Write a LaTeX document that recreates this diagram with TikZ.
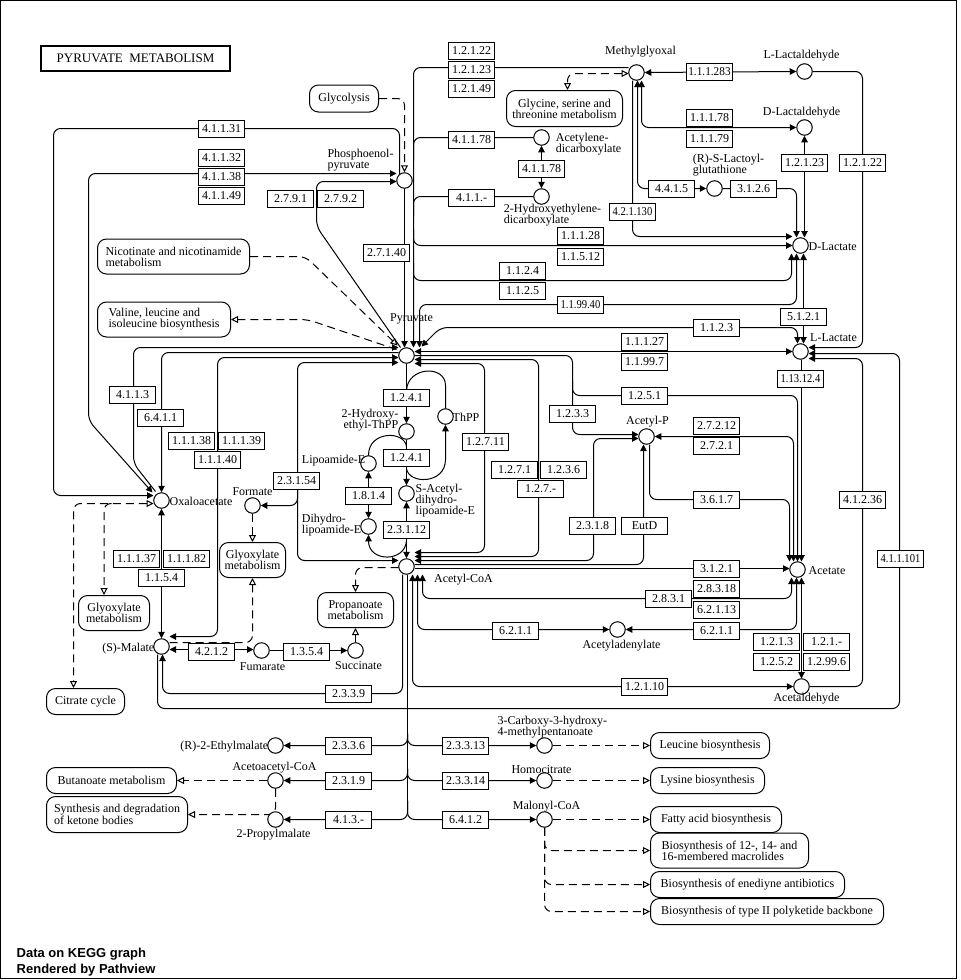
\documentclass[tikz,border=0pt]{standalone}
\usepackage{fontspec}
\setmainfont{Liberation Serif}
\newfontfamily\footfont{Liberation Sans}
\usetikzlibrary{arrows.meta,calc}
\pgfdeclarelayer{bg}
\pgfsetlayers{bg,main}
\newcommand\ecnum[2][0.88]{\scalebox{#1}[1]{#2}}
\begin{document}
\begin{tikzpicture}[x=1pt,y=-1pt,
  every node/.style={font=\fontsize{12}{11}\selectfont, inner sep=0pt},
  cpd/.style={circle,draw,fill=white,line width=1pt,minimum size=15.5pt},
  enz/.style={draw,fill=white,line width=1pt,minimum width=46pt,minimum height=17pt},
  mapbox/.style={draw,fill=white,line width=1pt,rounded corners=9pt,align=center},
  lbl/.style={align=left},
  ln/.style={line width=1pt,rounded corners=7pt},
  ar/.style={ln,-{Triangle[length=6.5pt,width=6.5pt]}},
  ra/.style={ln,{Triangle[length=6.5pt,width=6.5pt]}-},
  bi/.style={ln,{Triangle[length=6.5pt,width=6.5pt]}-{Triangle[length=6.5pt,width=6.5pt]}},
  dsh/.style={line width=1pt,dash pattern=on 8pt off 5pt,rounded corners=7pt},
  odsh/.style={dsh,-{Triangle[open,length=7pt,width=7pt]}},
  ob/.style={dsh,{Triangle[open,length=7pt,width=7pt]}-{Triangle[open,length=7pt,width=7pt]}}
]
\useasboundingbox (0,0) rectangle (961,980);
% half-pixel shift keeps one-point strokes on pixel centres
\begin{scope}[shift={(0.5,0.5)}]
\draw[line width=1pt] (0,0) rectangle (956,978);

% ---------- title and footer ----------
\node[draw,line width=2pt,minimum width=189pt,minimum height=25pt,font=\fontsize{13}{14}\selectfont] (title) at (135,58) {PYRUVATE\ \ METABOLISM};
\node[anchor=base west,font=\footfont\bfseries\fontsize{13}{14}\selectfont] (ft1) at (16,957) {Data on KEGG graph};
\node[anchor=base west,font=\footfont\bfseries\fontsize{13}{14}\selectfont] (ft2) at (16,972.5) {Rendered by Pathview};

% ---------- compounds ----------
\node[cpd] (pep) at (404,180) {};
\node[cpd] (mgo) at (636,72) {};
\node[cpd] (acd) at (541,137) {};
\node[cpd] (hed) at (541,196) {};
\node[cpd] (pyr) at (406,355) {};
\node[cpd] (llald) at (804,71) {};
\node[cpd] (dlald) at (804,127) {};
\node[cpd] (lgsh) at (714,188) {};
\node[cpd] (dlac) at (800,245) {};
\node[cpd] (llac) at (800,351) {};
\node[cpd] (acp) at (646,436) {};
\node[cpd] (ace) at (797,569) {};
\node[cpd] (acoa) at (406,566) {};
\node[cpd] (aade) at (617,629) {};
\node[cpd] (acald) at (801,686) {};
\node[cpd] (hthpp) at (406,431) {};
\node[cpd] (thpp) at (445,416) {};
\node[cpd] (lip) at (368,463) {};
\node[cpd] (dhlip) at (368,526) {};
\node[cpd] (sacl) at (406,493) {};
\node[cpd] (oaa) at (161,500) {};
\node[cpd] (form) at (252,505) {};
\node[cpd] (mal) at (161,646) {};
\node[cpd] (fum) at (261,650) {};
\node[cpd] (succ) at (355,650) {};
\node[cpd] (etm) at (275,745) {};
\node[cpd] (aacoa) at (275,780) {};
\node[cpd] (pmal) at (275,819) {};
\node[cpd] (cmp) at (544,745) {};
\node[cpd] (hcit) at (544,780) {};
\node[cpd] (mcoa) at (544,819) {};

% ---------- compound labels ----------
\node[lbl] (pepL) at (360,160) {Phosphoenol-\\pyruvate};
\node (mgoL) at (640,51) {Methylglyoxal};
\node[lbl] (acdL) at (588,144) {Acetylene-\\dicarboxylate};
\node[lbl] (hedL) at (552,215) {2-Hydroxyethylene-\\dicarboxylate};
\node (pyrL) at (411,318) {Pyruvate};
\node (llaldL) at (801,55) {L-Lactaldehyde};
\node (dlaldL) at (801,112) {D-Lactaldehyde};
\node[lbl] (lgshL) at (728,165) {(R)-S-Lactoyl-\\glutathione};
\node[anchor=west] (dlacL) at (808,246) {D-Lactate};
\node (llacL) at (833,337) {L-Lactate};
\node (acpL) at (647,421) {Acetyl-P};
\node[anchor=west] (aceL) at (808,570) {Acetate};
\node (acoaL) at (463,579) {Acetyl-CoA};
\node (aadeL) at (621,645) {Acetyladenylate};
\node (acaldL) at (806,698) {Acetaldehyde};
\node[align=right,anchor=east] (hthppL) at (398,420) {2-Hydroxy-\\ethyl-ThPP};
\node[anchor=west] (thppL) at (452,417) {ThPP};
\node[anchor=east] (lipL) at (365,460) {Lipoamide-E};
\node[lbl,anchor=east] (dhlipL) at (361,525) {Dihydro-\\lipoamide-E};
\node[lbl,anchor=west] (saclL) at (415,500) {S-Acetyl-\\dihydro-\\lipoamide-E};
\node[anchor=west] (oaaL) at (169,501) {Oxaloacetate};
\node (formL) at (252,491) {Formate};
\node[anchor=east] (malL) at (154,648) {(S)-Malate};
\node (fumL) at (262,666) {Fumarate};
\node (succL) at (358,665) {Succinate};
\node[anchor=east] (etmL) at (268,746) {(R)-2-Ethylmalate};
\node (aacoaL) at (274,767) {Acetoacetyl-CoA};
\node (pmalL) at (273,834) {2-Propylmalate};
\node[lbl,anchor=west] (cmpL) at (497,727) {3-Carboxy-3-hydroxy-\\4-methylpentanoate};
\node (hcitL) at (541,769) {Homocitrate};
\node (mcoaL) at (546,806) {Malonyl-CoA};

% ---------- pathway maps ----------
\node[mapbox,minimum width=69pt,minimum height=27pt] (glyc) at (343.5,98) {Glycolysis};
\node[mapbox,minimum width=116pt,minimum height=36pt] (gsm) at (564,108) {Glycine, serine and\\threonine metabolism};
\node[mapbox,align=left,minimum width=152pt,minimum height=35pt] (nic) at (173,256) {Nicotinate and nicotinamide\\metabolism};
\node[mapbox,align=left,minimum width=133pt,minimum height=35pt] (val) at (163.5,319) {Valine, leucine and\\isoleucine biosynthesis};
\node[mapbox,minimum width=71pt,minimum height=35pt] (glx1) at (113.5,612.5) {Glyoxylate\\metabolism};
\node[mapbox,minimum width=66pt,minimum height=35pt] (glx2) at (252,559.5) {Glyoxylate\\metabolism};
\node[mapbox,minimum width=76pt,minimum height=35pt] (prop) at (355,609.5) {Propanoate\\metabolism};
\node[mapbox,minimum width=78pt,minimum height=26pt] (tca) at (85,701) {Citrate cycle};
\node[mapbox,minimum width=130pt,minimum height=26pt] (but) at (111,780) {Butanoate metabolism};
\node[mapbox,align=left,minimum width=141pt,minimum height=36pt] (ket) at (116.5,814) {Synthesis and degradation\\of ketone bodies};
\node[mapbox,minimum width=119pt,minimum height=26pt] (leu) at (709.5,745) {Leucine biosynthesis};
\node[mapbox,minimum width=114pt,minimum height=26pt] (lys) at (707,780) {Lysine biosynthesis};
\node[mapbox,minimum width=131pt,minimum height=26pt] (fab) at (715.5,819) {Fatty acid biosynthesis};
\node[mapbox,align=left,minimum width=158pt,minimum height=35pt] (mac) at (729,850) {Biosynthesis of 12-, 14- and\\16-membered macrolides};
\node[mapbox,minimum width=194pt,minimum height=26pt] (ened) at (747,884) {Biosynthesis of enediyne antibiotics};
\node[mapbox,minimum width=233pt,minimum height=26pt] (t2pk) at (766.5,911) {Biosynthesis of type II polyketide backbone};

% ---------- enzymes ----------
\node[enz] (e41131) at (221,128) {4.1.1.31};
\node[enz] (e41132) at (221,157) {4.1.1.32};
\node[enz] (e41138) at (221,176) {4.1.1.38};
\node[enz] (e41149) at (221,195) {4.1.1.49};
\node[enz] (e2791) at (290,198) {2.7.9.1};
\node[enz] (e2792) at (340,198) {2.7.9.2};
\node[enz] (e12122a) at (471,50) {1.2.1.22};
\node[enz] (e12123a) at (471,69) {1.2.1.23};
\node[enz] (e12149) at (471,88) {1.2.1.49};
\node[enz] (e41178a) at (471,139) {4.1.1.78};
\node[enz] (e41178b) at (541,168) {4.1.1.78};
\node[enz] (e411x) at (471,197) {4.1.1.-};
\node[enz] (e27140) at (386,252) {2.7.1.40};
\node[enz] (e11128) at (580,235) {1.1.1.28};
\node[enz] (e11512) at (580,256) {1.1.5.12};
\node[enz] (e1124) at (522,270) {1.1.2.4};
\node[enz] (e1125) at (522,290) {1.1.2.5};
\node[enz] (e119940) at (580,304) {\ecnum{1.1.99.40}};
\node[enz] (e111283) at (709,71) {\ecnum[0.94]{1.1.1.283}};
\node[enz] (e11178) at (709,117) {1.1.1.78};
\node[enz] (e11179) at (709,138) {1.1.1.79};
\node[enz] (e12123b) at (804,162) {1.2.1.23};
\node[enz] (e12122b) at (862,162) {1.2.1.22};
\node[enz] (e4415) at (671,188) {4.4.1.5};
\node[enz] (e3126) at (753,188) {3.1.2.6};
\node[enz] (e421130) at (632,211) {\ecnum{4.2.1.130}};
\node[enz] (e5121) at (803,316) {5.1.2.1};
\node[enz] (e1123) at (716,327) {1.1.2.3};
\node[enz] (e11127) at (644,341) {1.1.1.27};
\node[enz] (e11997) at (644,361) {1.1.99.7};
\node[enz] (e113124) at (800,378) {\ecnum{1.13.12.4}};
\node[enz] (e1251) at (644,395) {1.2.5.1};
\node[enz] (e27212) at (716,425) {2.7.2.12};
\node[enz] (e2721) at (716,445) {2.7.2.1};
\node[enz] (e3617) at (716,499) {3.6.1.7};
\node[enz] (e41236) at (862,499) {4.1.2.36};
\node[enz] (eeutd) at (644,525) {EutD};
\node[enz] (e411101) at (900,558) {\ecnum{4.1.1.101}};
\node[enz] (e3121) at (716,568) {3.1.2.1};
\node[enz] (e28318) at (716,588) {2.8.3.18};
\node[enz] (e2831) at (668,598) {2.8.3.1};
\node[enz] (e62113) at (716,609) {6.2.1.13};
\node[enz] (e6211b) at (716,630) {6.2.1.1};
\node[enz] (e1213) at (776,641) {1.2.1.3};
\node[enz] (e121x) at (826,641) {1.2.1.-};
\node[enz] (e1252) at (776,661) {1.2.5.2};
\node[enz] (e12996) at (826,661) {1.2.99.6};
\node[enz] (e12110) at (644,686) {1.2.1.10};
\node[enz] (e1241a) at (406,397) {1.2.4.1};
\node[enz] (e1241b) at (406,457) {1.2.4.1};
\node[enz] (e1814) at (368,495) {1.8.1.4};
\node[enz] (e23112) at (406,529) {2.3.1.12};
\node[enz] (e12711) at (485,441) {1.2.7.11};
\node[enz] (e1271) at (514,469) {1.2.7.1};
\node[enz] (e1236) at (563,469) {1.2.3.6};
\node[enz] (e127x) at (540,488) {1.2.7.-};
\node[enz] (e1233) at (572,413) {1.2.3.3};
\node[enz] (e2318) at (592,525) {2.3.1.8};
\node[enz] (e6211a) at (515,630) {6.2.1.1};
\node[enz] (e4113) at (132,394) {4.1.1.3};
\node[enz] (e6411) at (160,417) {6.4.1.1};
\node[enz] (e11138) at (191,440) {1.1.1.38};
\node[enz] (e11139) at (241,440) {1.1.1.39};
\node[enz] (e11140) at (217,459) {1.1.1.40};
\node[enz] (e23154) at (296,480) {2.3.1.54};
\node[enz] (e11137) at (136,558) {1.1.1.37};
\node[enz] (e11182) at (186,558) {1.1.1.82};
\node[enz] (e1154) at (161,577) {1.1.5.4};
\node[enz] (e4212) at (211,651) {4.2.1.2};
\node[enz] (e1354) at (306,651) {1.3.5.4};
\node[enz] (e2339) at (348,693) {2.3.3.9};
\node[enz] (e2336) at (348,745) {2.3.3.6};
\node[enz] (e2319) at (348,780) {2.3.1.9};
\node[enz] (e413x) at (348,819) {4.1.3.-};
\node[enz] (e23313) at (465,745) {2.3.3.13};
\node[enz] (e23314) at (465,780) {2.3.3.14};
\node[enz] (e6412) at (465,819) {6.4.1.2};

% ---------- connectors (drawn beneath the nodes) ----------
\begin{pgfonlayer}{bg}
% phosphoenolpyruvate and oxaloacetate
\draw[odsh] (glyc.east) -| (pep.north);
\draw[ar] ($(pep)+(-5,-6)$) -- (399,128) -- (53,128) -- (53,495) -- ($(oaa)+(-8,-5)$);
\draw[bi] ($(pep)+(-8,-7)$) -- (88,173) -- (88,420) -- ($(oaa)+(-9,-8)$);
\draw[ar] ($(oaa)+(-6,-9)$) -- (133,463) -- (133,347) -- ($(pyr)+(-8,-8)$);
\draw[ar] ($(pyr)+(-8,-3)$) -- (161,352) -- (oaa.north);
\draw[bi] ($(pyr)+(-8,2)$) -- (217,357) -- (217,636) -- ($(mal)+(8,-10)$);
\draw[bi] ($(pyr)+(-8,7)$) -- (297,362) -- (297,560) -- ($(acoa)+(-8,-6)$);
\draw[ar] (297,486) |- (form.east);
\draw[ar] ($(pyr)+(-6,-8)$) -- (316,226) -- (316,181) -- ($(pep)+(-8,1)$);
\draw[odsh] (nic.east) -- (305,256) -- ($(pyr)+(-9,-10)$);
\draw[odsh] ($(pyr)+(-10,-6)$) -- (307,319) -- (val.east);
\draw[ar] (pep.south) -- ($(pyr)+(-2,-8)$);
% routes joining pyruvate from above
\draw[ar] ($(mgo)+(-8,-5)$) -- (413,67) -- ($(pyr)+(7,-8)$);
\draw[ln] (acd.west) -| (413,160);
\draw[bi] (acd.south) -- (hed.north);
\draw[ln] (hed.west) -| (413,215);
\draw[ar] (413,228) |- ($(dlac)+(-8,0)$);
\draw[ar] (413,262) |- (791,280) -- ($(dlac)+(-9,8)$);
\draw[bi] ($(pyr)+(13,-8)$) -- (419,304) -- (796,304) -- ($(dlac)+(-4,8)$);
\draw[bi] ($(dlac)+(3,8)$) -- ($(llac)+(3,-8)$);
\draw[bi] ($(llac)+(-3,-8)$) -- (797,327) -- (440,327) -- ($(pyr)+(15,-9)$);
% routes leaving pyruvate to the right
\draw[bi] ($(pyr)+(8,-4)$) -- ($(llac)+(-8,0)$);
\draw[ar] ($(pyr)+(8,0)$) -- (572,355) -- (572,434) -- ($(acp)+(-8,-2)$);
\draw[ar] (572,380) |- (797,395) -- ($(ace)+(0,-8)$);
\draw[bi] ($(pyr)+(8,4)$) -- (538,359) -- (538,556) -- ($(acoa)+(8,-10)$);
\draw[bi] ($(pyr)+(8,8)$) -- (484,363) -- (484,552) -- ($(acoa)+(8,-14)$);
% acetyl-CoA, acetyl-P and acetate
\draw[bi] ($(acoa)+(8,-6)$) -- (593,560) -- (593,438) -- ($(acp)+(-8,2)$);
\draw[ar] ($(acoa)+(8,-2)$) -- (643,564) -- ($(acp)+(-3,8)$);
\draw[ar] ($(acoa)+(8,2)$) -- ($(ace)+(-8,-1)$);
\draw[bi] ($(acoa)+(16,8)$) -- (422,598) -- (791,598) -- ($(ace)+(-6,8)$);
\draw[bi] ($(acoa)+(11,8)$) -- (417,629) -- (aade.west);
\draw[bi] (aade.east) -- (796,629) -- ($(ace)+(-1,8)$);
\draw[bi] ($(acoa)+(6,8)$) -- (412,686) -- (acald.west);
\draw[bi] ($(acald)+(0,-8)$) -- ($(ace)+(4,8)$);
\draw[bi] (acp.east) -- (793,436) -- ($(ace)+(-4,-8)$);
\draw[ar] ($(acp)+(3,8)$) -- (649,499) -- (789,499) -- ($(ace)+(-8,-8)$);
\draw[ar] ($(llac)+(1,8)$) -- ($(ace)+(4,-8)$);
% lactate side routes
\draw[ar] (acald.east) -- (862,686) -- (862,358) -- ($(llac)+(8,7)$);
\draw[ar] (llald.east) -- (862,71) -- (862,347) -- ($(llac)+(8,-4)$);
\draw[ar] ($(mal)+(-4,8)$) -- (157,708) -- (899,708) -- (899,353) -- ($(llac)+(8,2)$);
\draw[ar] ($(acoa)+(-4,8)$) -- (402,693) -- (162,693) -- ($(mal)+(1,8)$);
% acetyl-CoA condensations
\draw[ln] ($(acoa)+(1,8)$) -- (407,806);
\draw[ar] (407,733) |- (etm.east);
\draw[ar] (407,733) |- (cmp.west);
\draw[ar] (407,768) |- (aacoa.east);
\draw[ar] (407,768) |- (hcit.west);
\draw[ar] (407,800) |- (pmal.east);
\draw[ar] (407,800) |- (mcoa.west);
\draw[odsh] (cmp.east) -- (leu.west);
\draw[odsh] (hcit.east) -- (lys.west);
\draw[odsh] (mcoa.east) -- (fab.west);
\draw[odsh] (mcoa.south) |- (mac.west);
\draw[odsh] (mcoa.south) |- (ened.west);
\draw[odsh] (mcoa.south) |- (t2pk.west);
\draw[odsh] (aacoa.west) -- (but.east);
\draw[odsh] (aacoa.south) |- (ket.east);
% oxaloacetate, malate, fumarate
\draw[ob] ($(oaa)+(-8,3)$) -- (73,503) -- ($(tca.north)+(-12,0)$);
\draw[odsh] (111,503) -| ($(glx1.north)+(-10,0)$);
\draw[odsh] (form.south) -- (glx2.north);
\draw[odsh] ($(mal)+(8,-4)$) -| (glx2.south);
\draw[bi] (oaa.south) -- (mal.north);
\draw[bi] ($(mal)+(8,3)$) -- ($(fum)+(-8,-1)$);
\draw[ar] (fum.east) -- (succ.west);
\draw[odsh] (succ.north) -- (prop.south);
\draw[odsh] ($(acoa)+(-8,1)$) -| (prop.north);
% pyruvate dehydrogenase complex
\draw[ar] (pyr.south) -- (hthpp.north);
\draw[ar] (hthpp.south) -- (sacl.north);
\draw[bi] (sacl.south) -- (acoa.north);
\draw[bi] (lip.south) -- (dhlip.north);
\draw[ln] (406,390) .. controls (407,366) and (445,364) .. (445,392) -- (thpp.north);
\draw[ra] (thpp.south) -- (445,452) .. controls (445,484) and (408,484) .. (406,468);
\draw[ln] (lip.north) .. controls (368,430) and (404,430) .. (406,446);
\draw[ra] (dhlip.south) .. controls (368,562) and (405,562) .. (406,540);
% methylglyoxal
\draw[bi] (mgo.east) -- (llald.west);
\draw[bi] ($(mgo)+(5,8)$) -- (641,127) -- (dlald.west);
\draw[bi] ($(mgo)+(1,8)$) -- (637,188) -- (lgsh.west);
\draw[ar] ($(mgo)+(-4,8)$) -- (632,236) -- ($(dlac)+(-8,-9)$);
\draw[ar] (lgsh.east) -- (796,188) -- ($(dlac)+(-4,-8)$);
\draw[bi] (dlald.south) -- ($(dlac)+(4,-8)$);
\draw[ob] ($(mgo)+(-8,1)$) -- (567,73) -- ($(gsm.north)+(3,0)$);
\end{pgfonlayer}
\end{scope}
\end{tikzpicture}
\end{document}
